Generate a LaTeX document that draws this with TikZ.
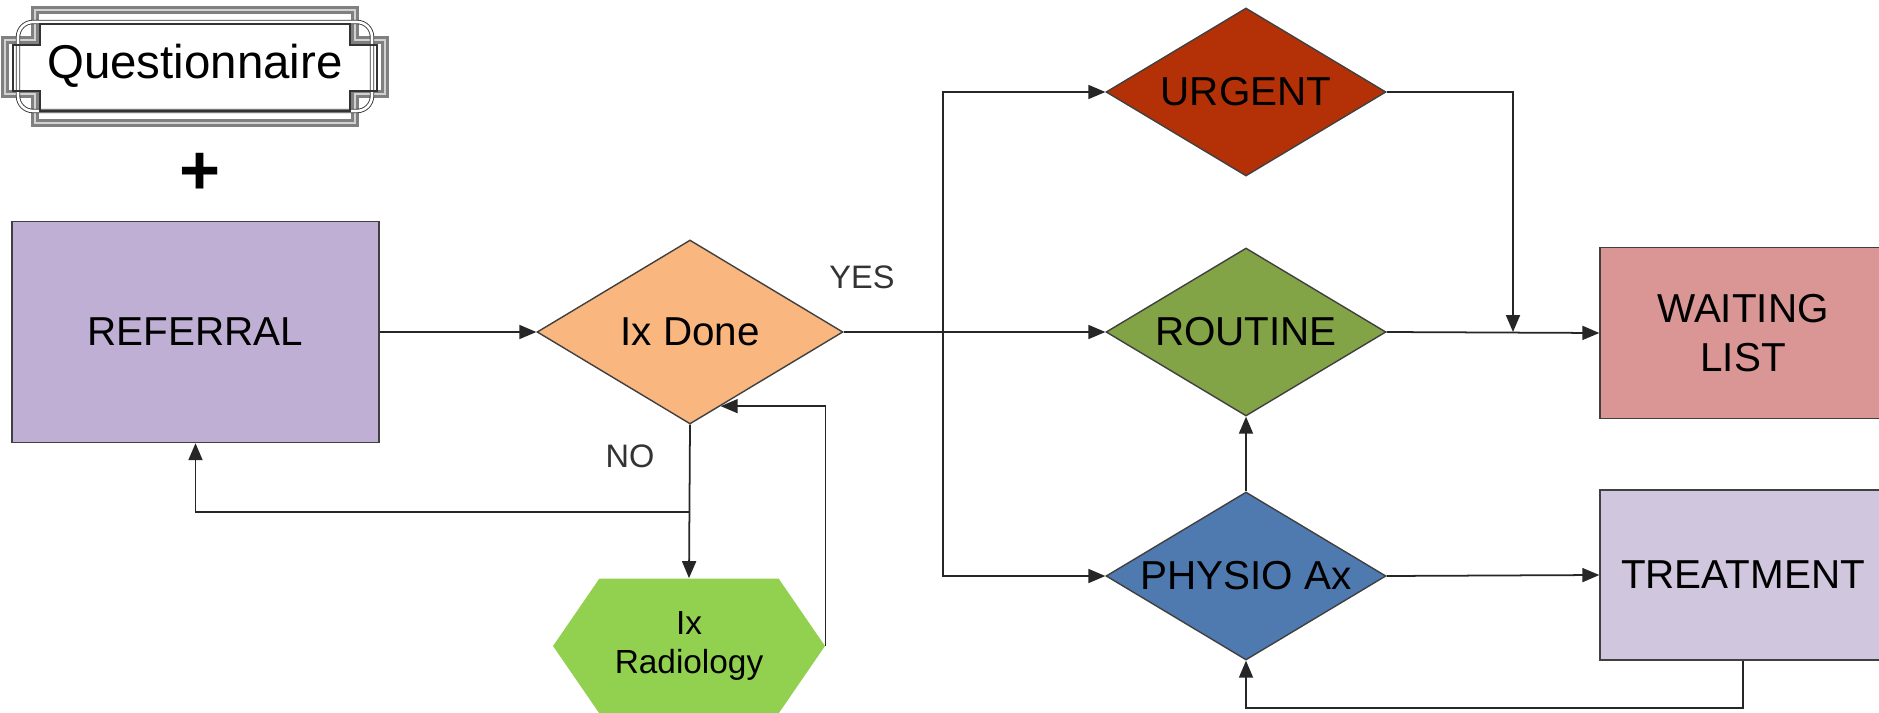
\documentclass[tikz,border=0pt]{standalone}
\usepackage{fontspec}
\setmainfont{Liberation Sans}
\usetikzlibrary{shapes.geometric,shapes.symbols,arrows.meta,calc}
\definecolor{referralcol}{RGB}{191,175,212}
\definecolor{ixdonecol}{RGB}{249,182,126}
\definecolor{radiocol}{RGB}{146,208,80}
\definecolor{urgentcol}{RGB}{180,49,8}
\definecolor{routinecol}{RGB}{130,163,70}
\definecolor{physiocol}{RGB}{78,122,176}
\definecolor{waitingcol}{RGB}{217,150,148}
\definecolor{treatcol}{RGB}{208,198,222}
\begin{document}
\begin{tikzpicture}[x=0.02cm,y=-0.02cm,
        box/.style={rectangle,draw=black!75,line width=0.8pt,fill=#1,
            minimum width=5.72cm,minimum height=3.42cm,align=center,
            font=\fontsize{23}{28}\selectfont},
        choice/.style={diamond,draw=black!75,line width=0.8pt,fill=#1,
            inner sep=0pt,aspect=1.667,minimum width=5.6cm,minimum height=3.36cm,
            font=\fontsize{23}{27}\selectfont},
        lbl/.style={font=\fontsize{18.5}{22}\selectfont,text=black!80},
        line/.style={draw=black!85,line width=1pt},
        arr/.style={line,-{Triangle[length=0.34cm,width=0.28cm]}}]
        \clip (0,0) rectangle (1879,713);
        \fill[white] (0,0) rectangle (1879,713);
        % title plaque
        \node (quest) at (195,66) {\fontsize{27}{30}\selectfont Questionnaire};
        \begin{scope}[shift={(quest.center)}]
            \draw[gray,line width=1.2pt,double=gray!35,double distance=1.6pt]
                (-160,-56) -- (160,-56) -- (160,-26) -- (190,-26) -- (190,28)
                -- (160,28) -- (160,57) -- (-160,57) -- (-160,28) -- (-190,28)
                -- (-190,-26) -- (-160,-26) -- cycle;
            \draw[black!80,line width=0.5pt,double=white,double distance=1.5pt,
                rounded corners=0.3cm] (-177,-44) rectangle (177,45);
            \draw[black!80,line width=0.7pt]
                (-155,-42) -- (155,-42) -- (155,-21) -- (182,-21) -- (182,25)
                -- (155,25) -- (155,45) -- (-155,45) -- (-155,25) -- (-182,25)
                -- (-182,-21) -- (-155,-21) -- cycle;
        \end{scope}
        \node (plus) at (200,174) {\fontsize{40}{40}\selectfont\bfseries +};
        % boxes and decisions
        \node[box=referralcol,minimum width=7.34cm,minimum height=4.42cm]
            (referral) at (195.5,332) {REFERRAL};
        \node[choice=ixdonecol,minimum width=6.12cm,minimum height=3.68cm]
            (ixdone) at (690,332) {Ix Done};
        \node[signal,signal to=east and west,signal pointer angle=111,
            fill=radiocol,minimum width=5.44cm,minimum height=2.7cm,inner sep=0pt,
            align=center,font=\fontsize{19}{22}\selectfont]
            (radio) at (689,646) {Ix\\Radiology};
        \node[choice=urgentcol] (urgent) at (1246,92) {URGENT};
        \node[choice=routinecol] (routine) at (1246,332) {ROUTINE};
        \node[choice=physiocol] (physio) at (1246,576) {PHYSIO Ax};
        \node[box=waitingcol] (waiting) at (1743,333) {WAITING\\LIST};
        \node[box=treatcol,minimum height=3.4cm] (treat) at (1743,575) {TREATMENT};
        \node[lbl] (yes) at (862,277) {YES};
        \node[lbl] (no) at (630,456) {NO};
        \coordinate (split) at (943,332);
        \coordinate (nojoint) at (690,512);
        \coordinate (drop) at (1513,332);
        % connectors
        \draw[arr] (referral.east) -- (ixdone.west);
        \draw[line] (ixdone.east) -- (split);
        \draw[arr] (split) -- (routine.west);
        \draw[arr] (split) |- (urgent.west);
        \draw[arr] (split) |- (physio.west);
        \draw[arr] (urgent.east) -| (drop);
        \draw[arr] (routine.east) -- (waiting.west);
        \draw[arr] (physio.north) -- (routine.south);
        \draw[arr] (physio.east) -- (treat.west);
        \draw[arr] (treat.south) -- ++(0,47) -| (physio.south);
        \draw[arr] (ixdone.south) -- (radio.north);
        \draw[arr] (nojoint) -| (referral.south);
        \draw[arr] (radio.east) |- ($(ixdone.south)!0.2!(ixdone.east)$);
    \end{tikzpicture}
\end{document}
